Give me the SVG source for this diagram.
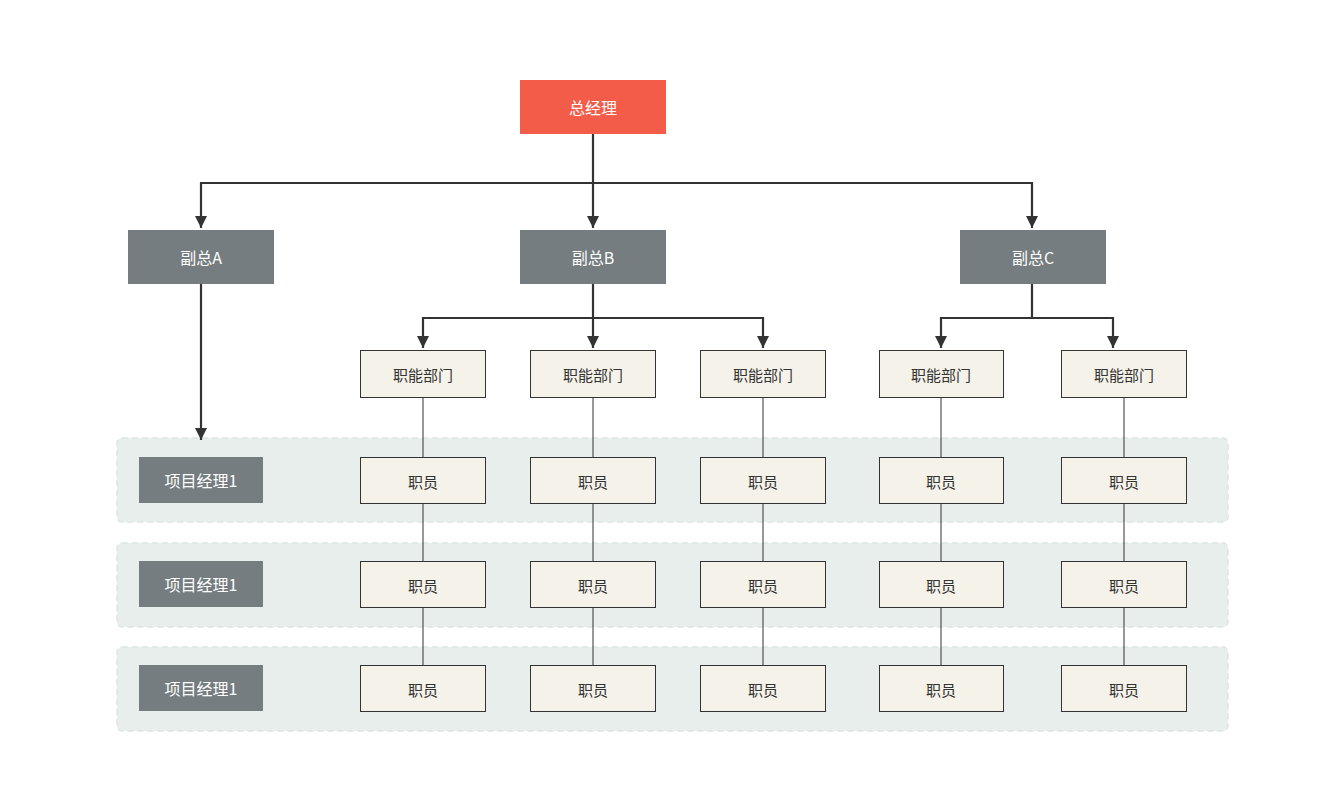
<svg xmlns="http://www.w3.org/2000/svg" width="1341" height="808" viewBox="0 0 1341 808">
<style>
text{font-family:"Noto Sans CJK SC","Liberation Sans",sans-serif;text-anchor:middle;dominant-baseline:central}
.top{fill:#F25C48}
.vp{fill:#757D80}
.lt{fill:#FFFFFF;font-size:16px}
.dept{fill:#F5F2E9;stroke:#333;stroke-width:1}
.dt{fill:#333;font-size:15px}
.lane{fill:#E8EEEC;stroke:#DDE5E2;stroke-width:1.5;stroke-dasharray:6 4}
.thick{fill:none;stroke:#333;stroke-width:2.2;marker-end:url(#ah)}
.thin{fill:none;stroke:#333;stroke-width:1}
</style>
<defs>
<marker id="ah" markerWidth="12" markerHeight="12" refX="10" refY="5" orient="auto" markerUnits="userSpaceOnUse" viewBox="0 0 10 10"><path d="M0,0 L10,5 L0,10 z" fill="#333"/></marker>
</defs>
<rect width="1341" height="808" fill="#fff"/>
<g id="lanes">
<rect class="lane" x="117" y="438" width="1111" height="84" rx="5"/>
<rect class="lane" x="117" y="543" width="1111" height="84" rx="5"/>
<rect class="lane" x="117" y="647" width="1111" height="84" rx="5"/>
</g>
<g id="connectors">
<path class="thick" d="M593,134 V183 M593,183 V228"/>
<path class="thick" d="M593,183 H201 V228"/>
<path class="thick" d="M593,183 H1032 V228"/>
<path class="thick" d="M201,284 V440"/>
<path class="thick" d="M593,284 V348"/>
<path class="thick" d="M593,318 H423 V348"/>
<path class="thick" d="M593,318 H763 V348"/>
<path class="thick" d="M1032,284 V318 H941 V348"/>
<path class="thick" d="M1032,318 H1113 V348"/>
<path class="thin" d="M423,397 V665 M593,397 V665 M763,397 V665 M941,397 V665 M1124,397 V665"/>
</g>
<g id="n-gm"><rect class="top" x="520" y="80" width="146" height="54"/><text class="lt" x="593" y="107">总经理</text></g>
<g id="n-vpa"><rect class="vp" x="128" y="230" width="146" height="54"/><text class="lt" x="201" y="257">副总A</text></g>
<g id="n-vpb"><rect class="vp" x="520" y="230" width="146" height="54"/><text class="lt" x="593" y="257">副总B</text></g>
<g id="n-vpc"><rect class="vp" x="960" y="230" width="146" height="54"/><text class="lt" x="1033" y="257">副总C</text></g>
<g id="n-d1"><rect class="dept" x="360.5" y="350.5" width="125" height="47"/><text class="dt" x="423" y="374">职能部门</text></g>
<g id="n-d2"><rect class="dept" x="530.5" y="350.5" width="125" height="47"/><text class="dt" x="593" y="374">职能部门</text></g>
<g id="n-d3"><rect class="dept" x="700.5" y="350.5" width="125" height="47"/><text class="dt" x="763" y="374">职能部门</text></g>
<g id="n-d4"><rect class="dept" x="879.5" y="350.5" width="124" height="47"/><text class="dt" x="941" y="374">职能部门</text></g>
<g id="n-d5"><rect class="dept" x="1061.5" y="350.5" width="125" height="47"/><text class="dt" x="1124" y="374">职能部门</text></g>
<g id="n-pm1"><rect class="vp" x="139" y="457" width="124" height="46"/><text class="lt" x="201" y="480">项目经理1</text></g>
<g id="n-pm2"><rect class="vp" x="139" y="561" width="124" height="46"/><text class="lt" x="201" y="584">项目经理1</text></g>
<g id="n-pm3"><rect class="vp" x="139" y="665" width="124" height="46"/><text class="lt" x="201" y="688">项目经理1</text></g>
<g id="n-s11"><rect class="dept" x="360.5" y="457.5" width="125" height="46"/><text class="dt" x="423" y="481">职员</text></g>
<g id="n-s12"><rect class="dept" x="530.5" y="457.5" width="125" height="46"/><text class="dt" x="593" y="481">职员</text></g>
<g id="n-s13"><rect class="dept" x="700.5" y="457.5" width="125" height="46"/><text class="dt" x="763" y="481">职员</text></g>
<g id="n-s14"><rect class="dept" x="879.5" y="457.5" width="124" height="46"/><text class="dt" x="941" y="481">职员</text></g>
<g id="n-s15"><rect class="dept" x="1061.5" y="457.5" width="125" height="46"/><text class="dt" x="1124" y="481">职员</text></g>
<g id="n-s21"><rect class="dept" x="360.5" y="561.5" width="125" height="46"/><text class="dt" x="423" y="585">职员</text></g>
<g id="n-s22"><rect class="dept" x="530.5" y="561.5" width="125" height="46"/><text class="dt" x="593" y="585">职员</text></g>
<g id="n-s23"><rect class="dept" x="700.5" y="561.5" width="125" height="46"/><text class="dt" x="763" y="585">职员</text></g>
<g id="n-s24"><rect class="dept" x="879.5" y="561.5" width="124" height="46"/><text class="dt" x="941" y="585">职员</text></g>
<g id="n-s25"><rect class="dept" x="1061.5" y="561.5" width="125" height="46"/><text class="dt" x="1124" y="585">职员</text></g>
<g id="n-s31"><rect class="dept" x="360.5" y="665.5" width="125" height="46"/><text class="dt" x="423" y="689">职员</text></g>
<g id="n-s32"><rect class="dept" x="530.5" y="665.5" width="125" height="46"/><text class="dt" x="593" y="689">职员</text></g>
<g id="n-s33"><rect class="dept" x="700.5" y="665.5" width="125" height="46"/><text class="dt" x="763" y="689">职员</text></g>
<g id="n-s34"><rect class="dept" x="879.5" y="665.5" width="124" height="46"/><text class="dt" x="941" y="689">职员</text></g>
<g id="n-s35"><rect class="dept" x="1061.5" y="665.5" width="125" height="46"/><text class="dt" x="1124" y="689">职员</text></g>
</svg>
